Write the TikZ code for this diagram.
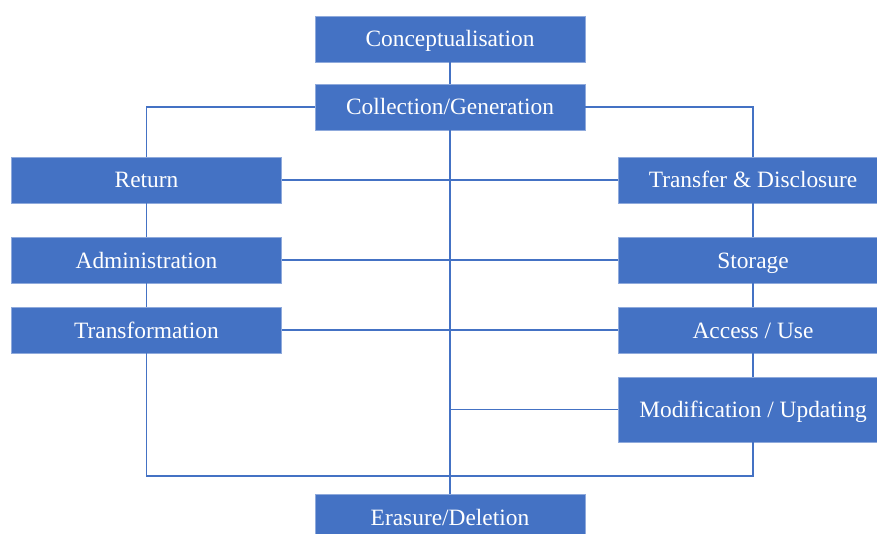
\documentclass[tikz,border=0pt]{standalone}
\usepackage{fontspec}
\setmainfont{Liberation Serif}
\definecolor{boxblue}{HTML}{4472C4}
\definecolor{boxedge}{HTML}{8FAADC}
\begin{document}
\begin{tikzpicture}[x=0.5pt,y=-0.5pt,
  stage/.style={fill=boxblue,draw=boxedge,line width=0.4pt,text=white,
    minimum width=135pt,minimum height=23pt,inner sep=0pt,
    text height=0.85em,text depth=0.05em,
    font=\fontsize{11.7}{14}\selectfont},
  link/.style={draw=boxblue,line width=0.75pt}]
  \useasboundingbox (0,0) rectangle (877,534);
  % Middle column
  \node[stage] (concept) at (450,39) {Conceptualisation};
  \node[stage] (collect) at (450,107) {Collection/Generation};
  \node[stage] (erase) at (450,517) {Erasure/Deletion};
  % Left column
  \node[stage] (return) at (146.5,180) {Return};
  \node[stage] (admin) at (146.5,260) {Administration};
  \node[stage] (transform) at (146.5,330) {Transformation};
  % Right column
  \node[stage] (transfer) at (753,180) {Transfer \& Disclosure};
  \node[stage] (storage) at (753,260) {Storage};
  \node[stage] (access) at (753,330) {Access / Use};
  \node[stage,minimum height=32.5pt] (modify) at (753,409.5) {Modification / Updating};
  % Free points on the lines
  \coordinate (branch) at (450,409.5);
  \coordinate (loop) at (450,476);
  % Spine
  \draw[link] (concept) -- (collect);
  \draw[link] (collect) -- (erase);
  \draw[link] (collect.west) -| (return.north);
  \draw[link] (collect.east) -| (transfer.north);
  % Cross links
  \draw[link] (return) -- (transfer);
  \draw[link] (admin) -- (storage);
  \draw[link] (transform) -- (access);
  \draw[link] (branch) -- (modify.west);
  % Column links
  \draw[link] (return) -- (admin);
  \draw[link] (admin) -- (transform);
  \draw[link] (transfer) -- (storage);
  \draw[link] (storage) -- (access);
  \draw[link] (access) -- (modify);
  % Bottom loop
  \draw[link] (transform.south) |- (loop) -| (modify.south);
\end{tikzpicture}
\end{document}
